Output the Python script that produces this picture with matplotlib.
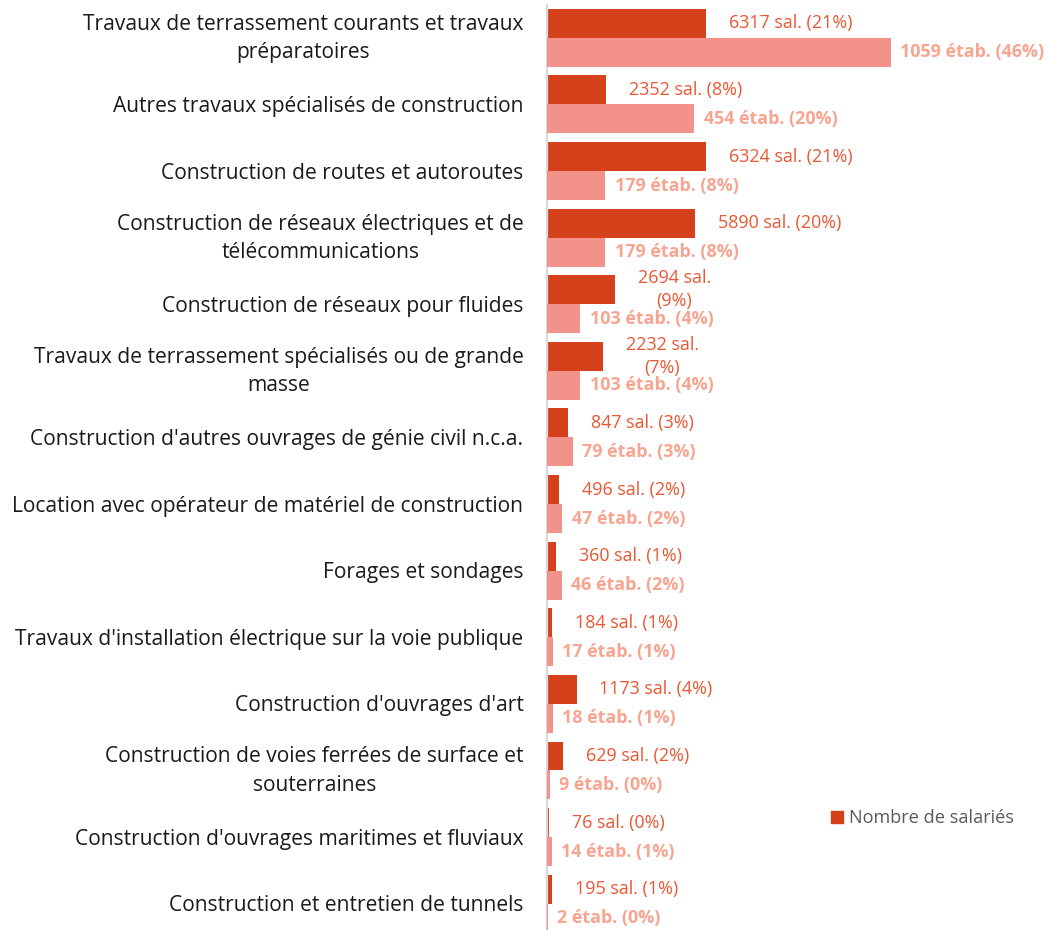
import matplotlib
matplotlib.use("Agg")
import matplotlib.pyplot as plt
import matplotlib.transforms as mtransforms
from matplotlib.patches import Rectangle

plt.rcParams['font.family'] = ['Open Sans', 'DejaVu Sans']

categories = [
    "Travaux de terrassement courants et travaux\npréparatoires",
    "Autres travaux spécialisés de construction",
    "Construction de routes et autoroutes",
    "Construction de réseaux électriques et de\ntélécommunications",
    "Construction de réseaux pour fluides",
    "Travaux de terrassement spécialisés ou de grande\nmasse",
    "Construction d'autres ouvrages de génie civil n.c.a.",
    "Location avec opérateur de matériel de construction",
    "Forages et sondages",
    "Travaux d'installation électrique sur la voie publique",
    "Construction d'ouvrages d'art",
    "Construction de voies ferrées de surface et\nsouterraines",
    "Construction d'ouvrages maritimes et fluviaux",
    "Construction et entretien de tunnels",
]
salaries = [6317, 2352, 6324, 5890, 2694, 2232, 847, 496, 360, 184, 1173, 629, 76, 195]
salaries_pct = [21, 8, 21, 20, 9, 7, 3, 2, 1, 1, 4, 2, 0, 1]
etabs = [1059, 454, 179, 179, 103, 103, 79, 47, 46, 17, 18, 9, 14, 2]
etabs_pct = [46, 20, 8, 8, 4, 4, 3, 2, 2, 1, 1, 0, 1, 0]
sal_labels = [f"{v} sal. ({p}%)" for v, p in zip(salaries, salaries_pct)]
sal_labels[4] = "2694 sal.\n(9%)"
sal_labels[5] = "2232 sal.\n(7%)"
etab_labels = [f"{v} étab. ({p}%)" for v, p in zip(etabs, etabs_pct)]
legend_label = "Nombre de salariés"

DARK = '#D4411B'
LIGHT = '#F2928A'
SAL_TXT = '#EC5633'
ETAB_TXT = '#F7A591'

W, H = 1049, 930
fig = plt.figure(figsize=(W / 100, H / 100), dpi=100)
left_px, top_px, bot_px = 547, 4.5, 937
ax = fig.add_axes([left_px / W, (H - bot_px) / H, 1 - left_px / W, (bot_px - top_px) / H])
ax2 = ax.twiny()

n = len(categories)
y = list(range(n))
bh = 0.435
ax.barh([i - bh / 2 for i in y], salaries, height=bh, color=DARK, label=legend_label, zorder=2)
ax2.barh([i + bh / 2 for i in y], etabs, height=bh, color=LIGHT, zorder=2)

ax.set_xlim(0, 19960)
ax2.set_xlim(0, 1545.5)
ax.set_ylim(n - 0.5, -0.5)
ax2.set_ylim(n - 0.5, -0.5)

for i in y:
    ax.annotate(sal_labels[i], xy=(salaries[i], i - bh / 2), xytext=(16.5, 0),
                textcoords='offset points', ha='left', va='center', multialignment='center',
                fontsize=12.9, color=SAL_TXT, linespacing=1.35, zorder=3)
    ax2.annotate(etab_labels[i], xy=(etabs[i], i + bh / 2), xytext=(6.8, 0),
                 textcoords='offset points', ha='left', va='center',
                 fontsize=12.9, fontweight='bold', color=ETAB_TXT, zorder=3)

# category labels
base = mtransforms.blended_transform_factory(ax.transAxes, ax.transData)
for i, cat in zip(y, categories):
    dy = -0.5 if '\n' in cat else -2
    tr = base + mtransforms.ScaledTranslation(-23.5 / 100, dy / 100, fig.dpi_scale_trans)
    ax.text(0, i, cat, transform=tr, ha='right', va='center', multialignment='center',
            fontsize=15.1, color='#1a1a1a', linespacing=1.45, clip_on=False)

ax.set_yticks([])
ax.tick_params(axis='x', bottom=False, labelbottom=False)
ax2.tick_params(axis='x', top=False, labeltop=False)
ax2.tick_params(axis='y', left=False, labelleft=False)

for a in (ax, ax2):
    for s in ('top', 'right', 'bottom'):
        a.spines[s].set_visible(False)
    a.spines['left'].set_visible(False)
    a.patch.set_visible(False)
ax.spines['left'].set_visible(True)
ax.spines['left'].set_color('#D9D9D9')
ax.spines['left'].set_linewidth(1.6)

leg = fig.legend(handles=[Rectangle((0, 0), 1, 1, color=DARK)], labels=[legend_label],
                 loc='center left', bbox_to_anchor=(815 / W, 1 - 818 / H), frameon=False,
                 fontsize=13.1, handlelength=0.65, handleheight=0.65, handletextpad=0.3)
for t in leg.get_texts():
    t.set_color('#595959')

fig.savefig('out.png', dpi=100)
